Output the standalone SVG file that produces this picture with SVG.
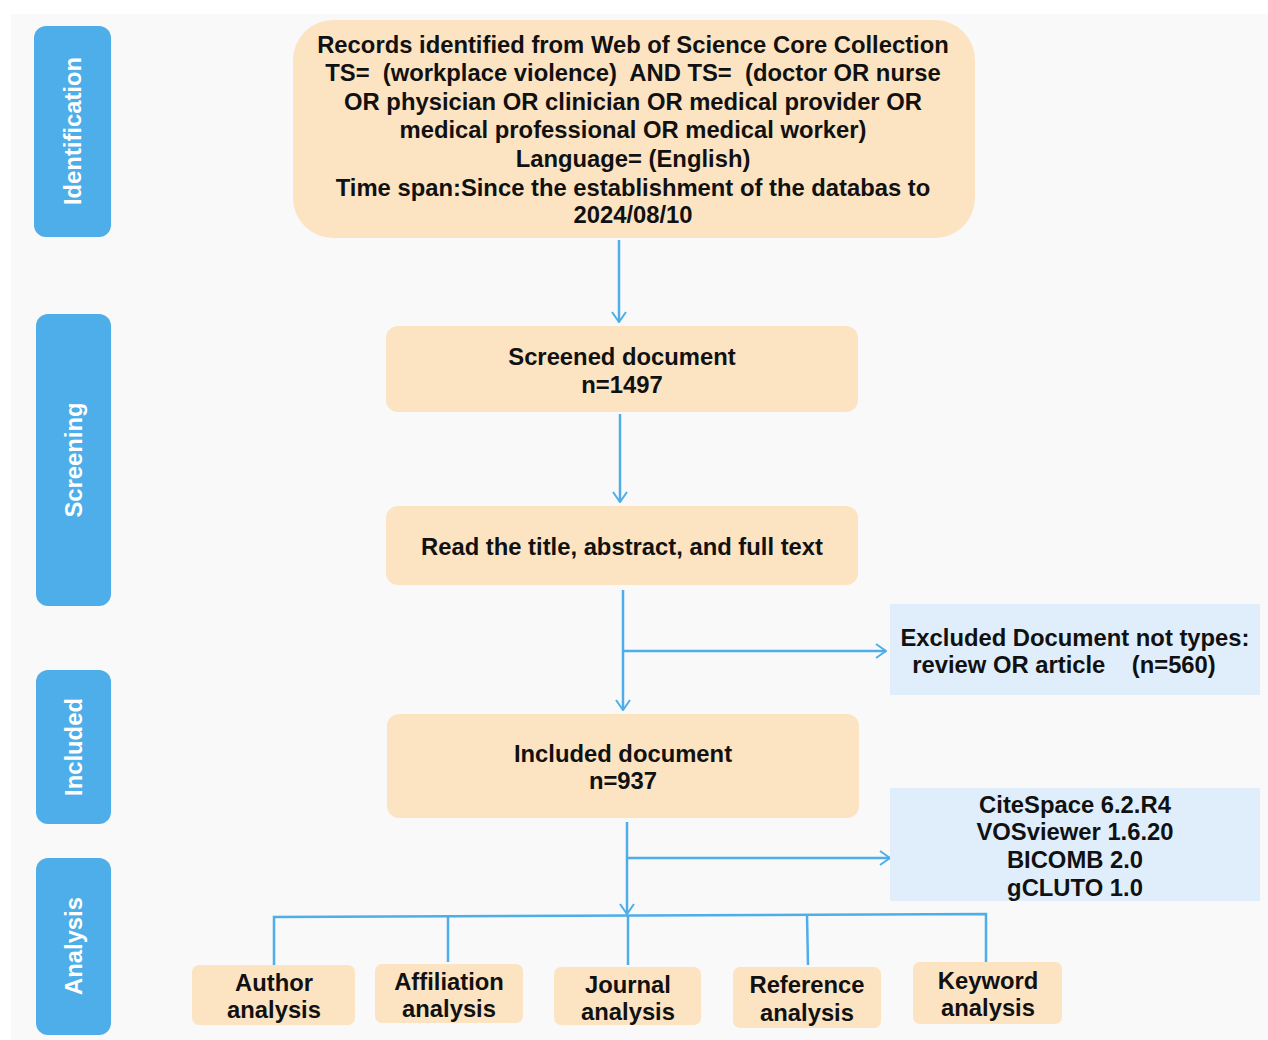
<svg xmlns="http://www.w3.org/2000/svg" width="1268" height="1040" viewBox="0 0 1268 1040">
<defs>
<style>
.side{fill:#4eaee9}
.node{fill:#fce4c3}
.info{fill:#dfeefa}
.t{font-family:"Liberation Sans",Arial,sans-serif;font-weight:bold;font-size:23.8px;fill:#111;text-anchor:middle}
.st{font-family:"Liberation Sans",Arial,sans-serif;font-weight:bold;font-size:23.8px;fill:#fff;text-anchor:middle}
.c{stroke:#4eaee9;stroke-width:2.5;fill:none}
</style>
<marker id="ah" viewBox="0 0 12 16" refX="11" refY="8" markerWidth="12" markerHeight="16" markerUnits="userSpaceOnUse" orient="auto">
<path d="M1,1 L11,8 L1,15" fill="none" stroke="#4eaee9" stroke-width="2"/>
</marker>
</defs>
<rect x="0" y="0" width="1268" height="1040" fill="#ffffff"/>
<rect x="11" y="14" width="1257" height="1026" fill="#f9f9f9"/>

<g id="side-identification"><rect class="side" x="34" y="26" width="77" height="211" rx="12"/><text class="st" transform="translate(81,131) rotate(-90)">Identification</text></g>
<g id="side-screening"><rect class="side" x="36" y="314" width="75" height="292" rx="12"/><text class="st" transform="translate(82,460) rotate(-90)">Screening</text></g>
<g id="side-included"><rect class="side" x="36" y="670" width="75" height="154" rx="12"/><text class="st" transform="translate(82,747) rotate(-90)">Included</text></g>
<g id="side-analysis"><rect class="side" x="36" y="858" width="75" height="177" rx="12"/><text class="st" transform="translate(82,946) rotate(-90)">Analysis</text></g>

<g id="connectors">
<line class="c" x1="619" y1="240" x2="619" y2="322" marker-end="url(#ah)"/>
<line class="c" x1="620" y1="414" x2="620" y2="502" marker-end="url(#ah)"/>
<line class="c" x1="623" y1="590" x2="623" y2="710" marker-end="url(#ah)"/>
<line class="c" x1="623" y1="651" x2="886" y2="651" marker-end="url(#ah)"/>
<line class="c" x1="627" y1="822" x2="627" y2="914" marker-end="url(#ah)"/>
<line class="c" x1="627" y1="858" x2="890" y2="858" marker-end="url(#ah)"/>
<polyline class="c" points="274,965 274,917 986,914 986,962"/>
<line class="c" x1="448" y1="917" x2="448" y2="962"/>
<line class="c" x1="628" y1="915" x2="628" y2="965"/>
<line class="c" x1="807" y1="915" x2="808" y2="965"/>
</g>

<g id="n-records"><rect class="node" x="293" y="20" width="682" height="218" rx="40"/>
<text class="t" x="633" y="53">Records identified from Web of Science Core Collection</text>
<text class="t" x="633" y="81" xml:space="preserve">TS=  (workplace violence)  AND TS=  (doctor OR nurse</text>
<text class="t" x="633" y="110">OR physician OR clinician OR medical provider OR</text>
<text class="t" x="633" y="138">medical professional OR medical worker)</text>
<text class="t" x="633" y="167">Language= (English)</text>
<text class="t" x="633" y="196">Time span:Since the establishment of the databas to</text>
<text class="t" x="633" y="223">2024/08/10</text>
</g>
<g id="n-screened"><rect class="node" x="386" y="326" width="472" height="86" rx="12"/>
<text class="t" x="622" y="365">Screened document</text>
<text class="t" x="622" y="393">n=1497</text></g>
<g id="n-read"><rect class="node" x="386" y="506" width="472" height="79" rx="12"/>
<text class="t" x="622" y="555">Read the title, abstract, and full text</text></g>
<g id="n-excluded"><rect class="info" x="890" y="604" width="370" height="91"/>
<text class="t" x="1075" y="646">Excluded Document not types:</text>
<text class="t" x="1064" y="673" xml:space="preserve">review OR article    (n=560)</text></g>
<g id="n-included"><rect class="node" x="387" y="714" width="472" height="104" rx="12"/>
<text class="t" x="623" y="762">Included document</text>
<text class="t" x="623" y="789">n=937</text></g>
<g id="n-tools"><rect class="info" x="890" y="788" width="370" height="113"/>
<text class="t" x="1075" y="813">CiteSpace 6.2.R4</text>
<text class="t" x="1075" y="840">VOSviewer 1.6.20</text>
<text class="t" x="1075" y="868">BICOMB 2.0</text>
<text class="t" x="1075" y="896">gCLUTO 1.0</text></g>

<g id="n-author"><rect class="node" x="192" y="965" width="163" height="60" rx="7"/>
<text class="t" x="274" y="991">Author</text><text class="t" x="274" y="1018">analysis</text></g>
<g id="n-affiliation"><rect class="node" x="375" y="964" width="148" height="59" rx="7"/>
<text class="t" x="449" y="990">Affiliation</text><text class="t" x="449" y="1017">analysis</text></g>
<g id="n-journal"><rect class="node" x="554" y="967" width="147" height="58" rx="7"/>
<text class="t" x="628" y="993">Journal</text><text class="t" x="628" y="1020">analysis</text></g>
<g id="n-reference"><rect class="node" x="733" y="967" width="148" height="61" rx="7"/>
<text class="t" x="807" y="993">Reference</text><text class="t" x="807" y="1021">analysis</text></g>
<g id="n-keyword"><rect class="node" x="913" y="962" width="149" height="62" rx="7"/>
<text class="t" x="988" y="989">Keyword</text><text class="t" x="988" y="1016">analysis</text></g>
</svg>
